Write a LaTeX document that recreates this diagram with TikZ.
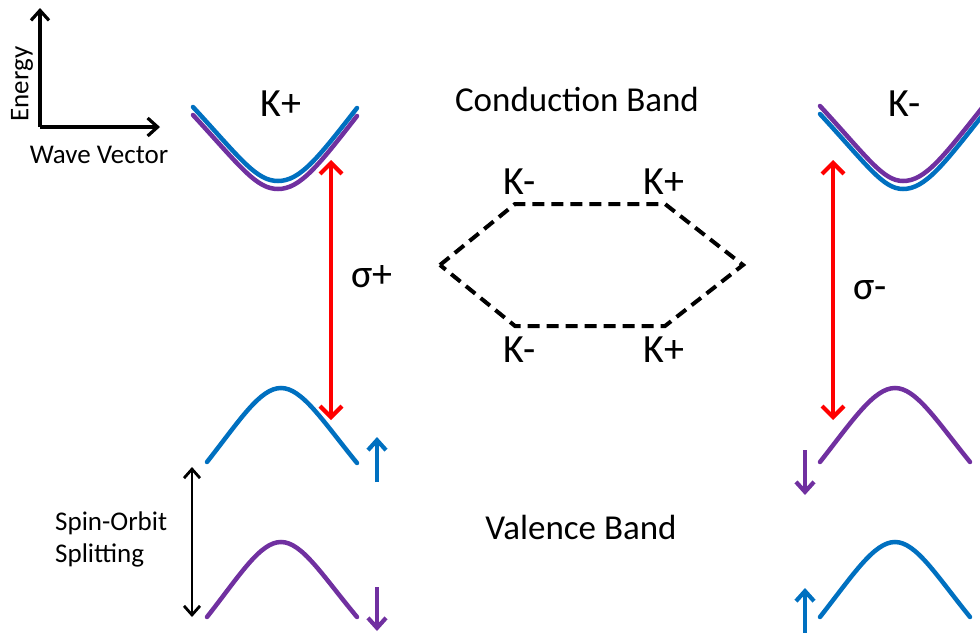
\documentclass[tikz,border=0pt]{standalone}
\usepackage{fontspec}
\setmainfont{Carlito}
\usetikzlibrary{arrows.meta}
\definecolor{spinblue}{HTML}{0070C0}
\definecolor{spinpurple}{HTML}{7030A0}
\definecolor{photonred}{HTML}{FF0000}
\tikzset{
  band/.style={line width=4.5pt, line cap=round},
  photon/.style={{Straight Barb[length=11pt, width=22pt]}-{Straight Barb[length=11pt, width=22pt]}, line width=4.2pt, photonred},
  spinarr/.style={-{Straight Barb[length=10pt, width=18pt]}, line width=4.2pt},
  axisarr/.style={-{Straight Barb[length=10pt, width=18pt]}, line width=3.2pt, black},
  socarr/.style={{Straight Barb[length=9pt, width=16pt]}-{Straight Barb[length=9pt, width=16pt]}, line width=2.8pt, black},
  zone/.style={line width=4pt, dash pattern=on 12pt off 7pt},
  biglabel/.style={font=\fontsize{40}{44}\selectfont, inner sep=0pt},
  bandlabel/.style={font=\fontsize{35}{40}\selectfont, inner sep=0pt},
  smalllabel/.style={font=\fontsize{27}{32}\selectfont, inner sep=0pt},
}
\begin{document}
\begin{tikzpicture}[x=1pt, y=-1pt]
  \useasboundingbox (0,0) rectangle (980,632);

  % Axes
  \coordinate (origin) at (40,127);
  \coordinate (etop) at (40,8);
  \coordinate (kright) at (160,127);
  \draw[axisarr] (origin) -- (etop);
  \draw[axisarr] (origin) -- (kright);
  \node[smalllabel, rotate=90] (energy) at (22,84) {Energy};
  \node[smalllabel] (wavevec) at (99,155) {Wave Vector};

  % K+ valley
  \draw[band, spinpurple] (193,115) .. controls (240,166) and (256,189) .. (278,189) .. controls (300,189) and (318,166) .. (357,116);
  \draw[band, spinblue] (193,107) .. controls (240,158) and (256,181) .. (278,181) .. controls (300,181) and (318,158) .. (357,108);
  \draw[band, spinblue] (207,462) .. controls (240,420) and (260,388) .. (281,388) .. controls (302,388) and (322,420) .. (357,463);
  \draw[band, spinpurple] (207,617) .. controls (240,575) and (260,542) .. (281,542) .. controls (302,542) and (322,575) .. (357,617);
  \node[biglabel] (kplus) at (281,104) {K+};

  \coordinate (sp1top) at (331,160);
  \coordinate (sp1bot) at (331,420);
  \draw[photon] (sp1top) -- (sp1bot);
  \node[biglabel] (sigp) at (372,277) {σ+};

  \coordinate (up1a) at (377,482);
  \coordinate (up1b) at (377,437);
  \draw[spinarr, spinblue] (up1a) -- (up1b);
  \coordinate (dn1a) at (377,587);
  \coordinate (dn1b) at (377,631);
  \draw[spinarr, spinpurple] (dn1a) -- (dn1b);

  \coordinate (soctop) at (192,467);
  \coordinate (socbot) at (192,617);
  \draw[socarr] (soctop) -- (socbot);
  \node[smalllabel, anchor=west, align=left] (soc) at (55,539) {Spin-Orbit\\Splitting};

  % Brillouin zone
  \coordinate (h1) at (440,265);
  \coordinate (h2) at (515,204);
  \coordinate (h3) at (665,204);
  \coordinate (h4) at (743,265);
  \coordinate (h5) at (665,326);
  \coordinate (h6) at (515,326);
  \draw[zone] (h1) -- (h2) -- (h3) -- (h4) -- (h5) -- (h6) -- cycle;
  \node[biglabel] (hkm1) at (520,182) {K-};
  \node[biglabel] (hkp1) at (664,182) {K+};
  \node[biglabel] (hkm2) at (520,350) {K-};
  \node[biglabel] (hkp2) at (664,350) {K+};
  \node[bandlabel] (cband) at (577,99) {Conduction Band};
  \node[bandlabel] (vband) at (581,527) {Valence Band};

  % K- valley
  \draw[band, spinblue] (820,114) .. controls (867,165) and (883,189) .. (903,189) .. controls (925,189) and (943,165) .. (982,116);
  \draw[band, spinpurple] (820,106) .. controls (867,157) and (883,181) .. (903,181) .. controls (925,181) and (943,157) .. (982,108);
  \draw[band, spinpurple] (820,462) .. controls (853,420) and (874,388) .. (895,388) .. controls (916,388) and (936,420) .. (970,462);
  \draw[band, spinblue] (820,617) .. controls (853,575) and (874,542) .. (895,542) .. controls (916,542) and (936,575) .. (970,617);
  \node[biglabel] (kminus) at (905,104) {K-};

  \coordinate (sp2top) at (833,160);
  \coordinate (sp2bot) at (833,420);
  \draw[photon] (sp2top) -- (sp2bot);
  \node[biglabel] (sigm) at (870,290) {σ-};

  \coordinate (dn2a) at (805,450);
  \coordinate (dn2b) at (805,495);
  \draw[spinarr, spinpurple] (dn2a) -- (dn2b);
  \coordinate (up2a) at (805,640);
  \coordinate (up2b) at (805,588);
  \draw[spinarr, spinblue] (up2a) -- (up2b);
\end{tikzpicture}
\end{document}
